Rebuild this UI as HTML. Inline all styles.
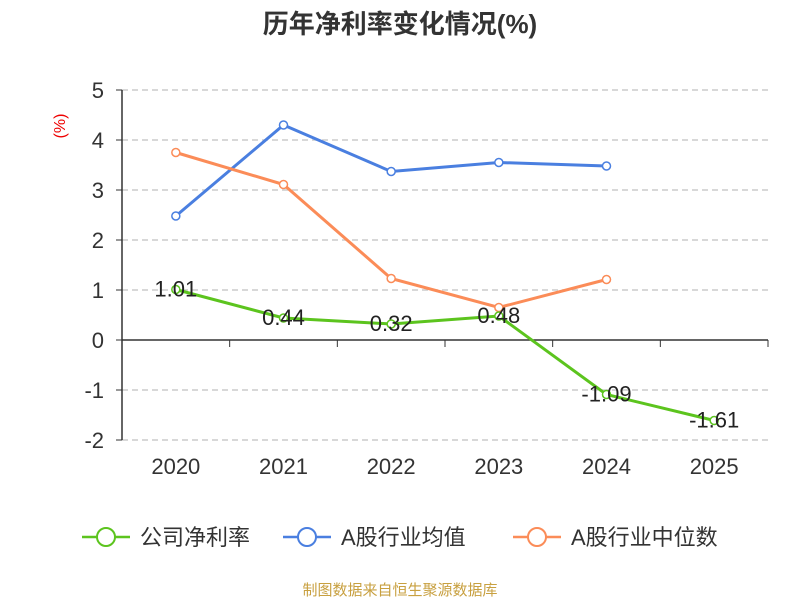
<!DOCTYPE html>
<html><head><meta charset="utf-8"><style>
body{margin:0;background:#fff;font-family:"Liberation Sans","Noto Sans CJK SC",sans-serif}
</style></head><body>
<svg id="c" width="800" height="600" xmlns="http://www.w3.org/2000/svg" font-family="Liberation Sans, Noto Sans CJK SC, sans-serif">
<text x="400" y="33" text-anchor="middle" font-size="26" font-weight="bold" fill="#333">历年净利率变化情况(%)</text>
<text transform="translate(65,126) rotate(-90)" text-anchor="middle" font-size="16" fill="#e00">(%)</text>
<g id="grid"></g><g id="axes"></g><g id="series"></g>
<g>
<g><line x1="82" y1="537" x2="130" y2="537" stroke="#5cc41e" stroke-width="2.5"/><circle cx="106" cy="537" r="9" fill="#fff" stroke="#5cc41e" stroke-width="2"/><text x="140" y="545" font-size="22" fill="#333">公司净利率</text></g>
<g><line x1="283" y1="537" x2="331" y2="537" stroke="#4a7fe0" stroke-width="2.5"/><circle cx="307" cy="537" r="9" fill="#fff" stroke="#4a7fe0" stroke-width="2"/><text x="341" y="545" font-size="22" fill="#333">A股行业均值</text></g>
<g><line x1="513" y1="537" x2="561" y2="537" stroke="#fb8c58" stroke-width="2.5"/><circle cx="537" cy="537" r="9" fill="#fff" stroke="#fb8c58" stroke-width="2"/><text x="571" y="545" font-size="22" fill="#333">A股行业中位数</text></g>
</g>
<text x="400" y="595" text-anchor="middle" font-size="15" fill="#c8a040">制图数据来自恒生聚源数据库</text>
</svg>
<script>
const categories=["2020","2021","2022","2023","2024","2025"];
const company=[1.01,0.44,0.32,0.48,-1.09,-1.61];
const industryAvg=[2.48,4.30,3.37,3.55,3.48,null];
const industryMedian=[3.75,3.11,1.23,0.65,1.21,null];
const yTicks=[5,4,3,2,1,0,-1,-2];
const NS="http://www.w3.org/2000/svg";
const L=122,R=768,T=90,B=440,ymax=5,ymin=-2;
const bw=(R-L)/categories.length;
const x=i=>L+bw*(i+0.5);
const y=v=>T+(ymax-v)/(ymax-ymin)*(B-T);
function mk(tag,attrs,parent,txt){const e=document.createElementNS(NS,tag);for(const k in attrs)e.setAttribute(k,attrs[k]);if(txt!=null)e.textContent=txt;document.getElementById(parent).appendChild(e);return e;}
yTicks.forEach(v=>{
 if(v!==0){const g=mk('line',{x1:L,x2:R,y1:y(v),y2:y(v),stroke:'#ccc','stroke-dasharray':'6,4','stroke-width':1.5},'grid');
 
 }
 const t=mk('line',{x1:L-6,x2:L,y1:y(v),y2:y(v),stroke:'#333'},'axes');
 
 
 const lb=mk('text',{x:L-18,y:y(v)+8,'text-anchor':'end','font-size':22,fill:'#333'},'axes',String(v));
 
 
});
const ya=mk('line',{x1:L,x2:L,y1:T,y2:B,stroke:'#333','stroke-width':1.5},'axes');


const xa=mk('line',{x1:L,x2:R,y1:y(0),y2:y(0),stroke:'#333','stroke-width':1.5},'axes');


categories.forEach((c,i)=>{
 const tk=mk('line',{x1:L+bw*(i+1),x2:L+bw*(i+1),y1:y(0),y2:y(0)+7,stroke:'#333'},'axes');
 
 
 const lb=mk('text',{x:x(i),y:474,'text-anchor':'middle','font-size':22,fill:'#333'},'axes',c);
 
 
});
function series(data,color,name,labels){
 const pts=data.map((v,i)=>v==null?null:[x(i),y(v)]).filter(p=>p);
 const pl=mk('polyline',{points:pts.map(p=>p.join(',')).join(' '),fill:'none',stroke:color,'stroke-width':3},'series');
 
 
 data.forEach((v,i)=>{if(v==null)return;
  const c=mk('circle',{cx:x(i),cy:y(v),r:4,fill:'#fff',stroke:color,'stroke-width':1.5},'series');
  
  
  if(labels){const t=mk('text',{x:x(i),y:y(v)+7,'text-anchor':'middle','font-size':22,fill:'#222'},'series',v.toFixed(2));
  
  }
 });
}
series(industryAvg,'#4a7fe0','industry-avg',false);
series(industryMedian,'#fb8c58','industry-median',false);
series(company,'#5cc41e','company',true);
</script>
</body></html>
